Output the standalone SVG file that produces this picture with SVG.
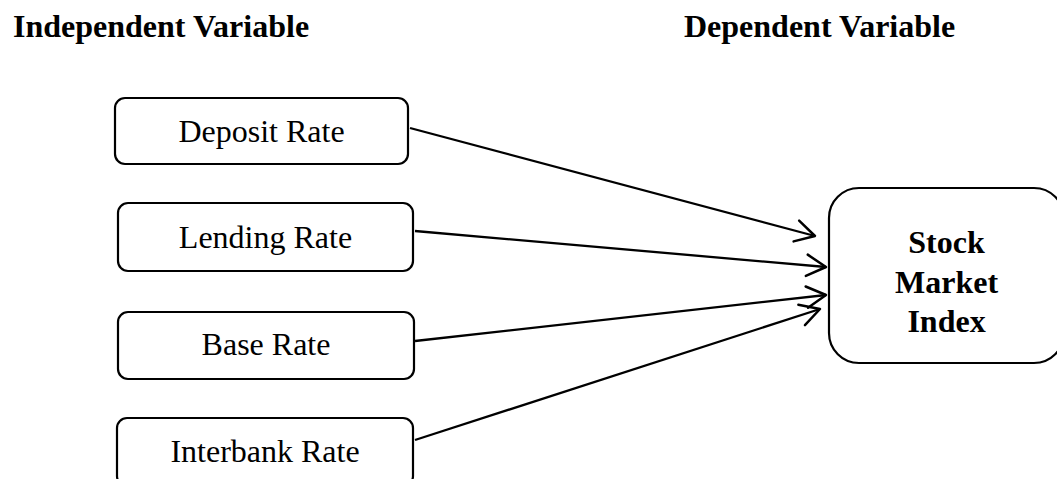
<svg xmlns="http://www.w3.org/2000/svg" width="1057" height="479" viewBox="0 0 1057 479">
  <style>
    .box { fill: #ffffff; stroke: #000000; stroke-width: 2.2; }
    .t { font-family: "Liberation Serif", "Times New Roman", serif; font-size: 32px; fill: #000000; text-anchor: middle; }
    .h { font-family: "Liberation Serif", "Times New Roman", serif; font-size: 32px; font-weight: bold; fill: #000000; }
    .b { font-weight: bold; }
    .conn { stroke: #000000; stroke-width: 2.3; fill: none; }
  </style>
  <defs>
    <marker id="arr" markerUnits="userSpaceOnUse" markerWidth="30" markerHeight="30" viewBox="-22 -14 26 28" refX="0" refY="0" orient="auto" overflow="visible">
      <path d="M -18,-10 L 0,0 L -18,10" fill="none" stroke="#000000" stroke-width="2.3" stroke-linecap="round" stroke-linejoin="round"/>
    </marker>
  </defs>
  <rect width="1057" height="479" fill="#ffffff"/>

  <g id="headers">
    <text class="h" x="13" y="36.5">Independent Variable</text>
    <text class="h" x="684" y="36.5">Dependent Variable</text>
  </g>

  <g id="connectors">
    <line class="conn" x1="410" y1="128" x2="815" y2="236" marker-end="url(#arr)"/>
    <line class="conn" x1="415" y1="231" x2="826" y2="267" marker-end="url(#arr)"/>
    <line class="conn" x1="415" y1="341" x2="826" y2="295" marker-end="url(#arr)"/>
    <line class="conn" x1="415" y1="440" x2="820" y2="309" marker-end="url(#arr)"/>
  </g>

  <g id="deposit-rate">
    <rect class="box" x="115" y="98" width="293" height="66" rx="10"/>
    <text class="t" x="261.5" y="141.5">Deposit Rate</text>
  </g>
  <g id="lending-rate">
    <rect class="box" x="118" y="203" width="295" height="68" rx="10"/>
    <text class="t" x="265.5" y="248">Lending Rate</text>
  </g>
  <g id="base-rate">
    <rect class="box" x="118" y="312" width="296" height="67" rx="10"/>
    <text class="t" x="266" y="355">Base Rate</text>
  </g>
  <g id="interbank-rate">
    <rect class="box" x="117" y="418" width="296" height="68" rx="10"/>
    <text class="t" x="265" y="461.5">Interbank Rate</text>
  </g>
  <g id="stock-market-index">
    <rect class="box" x="829" y="188" width="235" height="175" rx="30"/>
    <text class="t b" x="946.5" y="253">Stock</text>
    <text class="t b" x="946.5" y="292.5">Market</text>
    <text class="t b" x="946.5" y="331.5">Index</text>
  </g>
</svg>
